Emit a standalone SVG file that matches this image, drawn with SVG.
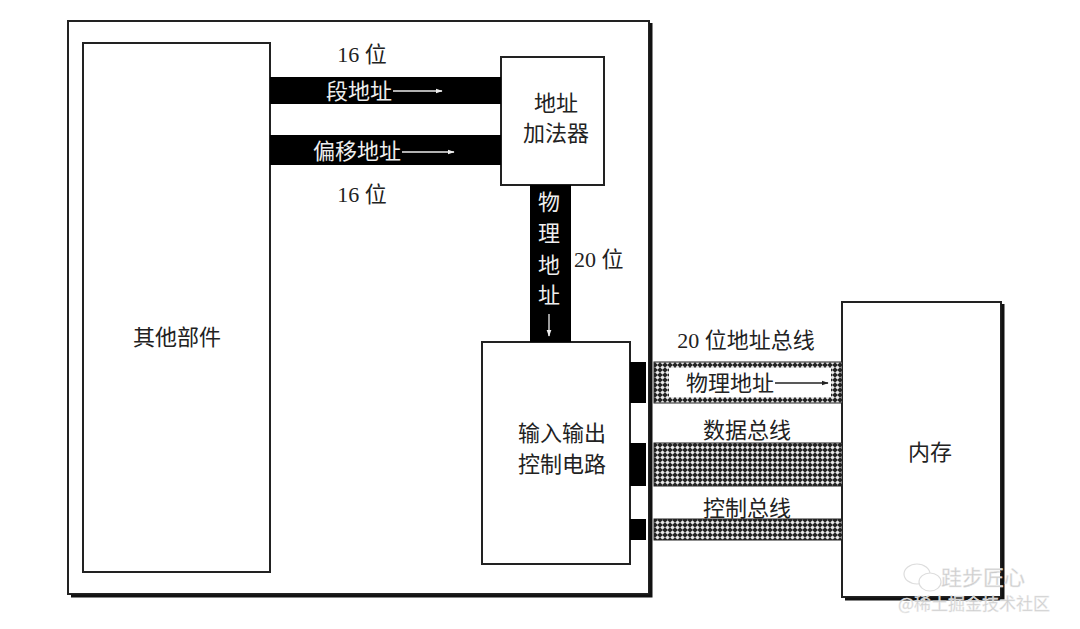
<svg xmlns="http://www.w3.org/2000/svg" width="1080" height="629" viewBox="0 0 1080 629">
<style>
.box{fill:#fff;stroke:#222;stroke-width:2}
.shadow{fill:none;stroke:#111;stroke-width:3}
.t{font-family:"Liberation Serif","Noto Sans CJK SC",serif;font-size:22px;fill:#222}
.w{font-family:"Liberation Serif","Noto Sans CJK SC",serif;font-size:22px;fill:#eee}
.bar{fill:#000}
.arr{stroke:#eee;stroke-width:1.3;fill:none}
.arrk{stroke:#222;stroke-width:1.3;fill:none}
.wm{font-family:"Noto Sans CJK SC",sans-serif;fill:#ccc;stroke:#eee;stroke-width:0.4}
</style>
<defs>
<pattern id="hatch" width="5" height="5" patternUnits="userSpaceOnUse">
<rect width="5" height="5" fill="#222"/>
<path d="M2.5 0.2 L4.8 2.5 L2.5 4.8 L0.2 2.5 Z" fill="#e8e8e8"/>
</pattern>
<marker id="hw" viewBox="0 0 10 10" refX="9" refY="5" markerWidth="7" markerHeight="7" orient="auto" markerUnits="userSpaceOnUse"><path d="M0 1.5 L10 5 L0 8.5 Z" fill="#eee"/></marker>
<marker id="hk" viewBox="0 0 10 10" refX="9" refY="5" markerWidth="7" markerHeight="7" orient="auto" markerUnits="userSpaceOnUse"><path d="M0 1.5 L10 5 L0 8.5 Z" fill="#222"/></marker>
</defs>
<rect width="1080" height="629" fill="#fff"/>

<g id="cpu">
<rect class="box" x="68" y="21" width="581" height="573"/>
<polyline class="shadow" points="651,23 651,596 71,596"/>
</g>

<g id="other">
<rect class="box" x="83" y="43" width="187" height="529"/>
<text class="t" x="177" y="345" text-anchor="middle">其他部件</text>
</g>

<g id="adder">
<rect class="box" x="501" y="57" width="103" height="128"/>
<text class="t" x="556" y="111" text-anchor="middle">地址</text>
<text class="t" x="556" y="141" text-anchor="middle">加法器</text>
</g>

<g id="io">
<rect class="box" x="482" y="342" width="148" height="222"/>
<text class="t" x="562" y="441" text-anchor="middle">输入输出</text>
<text class="t" x="562" y="472" text-anchor="middle">控制电路</text>
</g>

<g id="memory">
<rect class="box" x="842" y="302" width="159" height="295"/>
<polyline class="shadow" points="1003,304 1003,599 845,599"/>
<text class="t" x="930" y="460" text-anchor="middle">内存</text>
</g>

<g id="connectors">
<rect class="bar" x="270" y="77" width="231" height="27"/>
<text class="w" x="326" y="99">段地址</text>
<line class="arr" x1="393" y1="91" x2="442" y2="91" marker-end="url(#hw)"/>
<text class="t" x="362" y="62" text-anchor="middle">16 位</text>

<rect class="bar" x="270" y="135" width="231" height="30"/>
<text class="w" x="313" y="159">偏移地址</text>
<line class="arr" x1="402" y1="152" x2="454" y2="152" marker-end="url(#hw)"/>
<text class="t" x="362" y="202" text-anchor="middle">16 位</text>

<rect class="bar" x="530" y="185" width="41" height="157"/>
<text class="w" x="549" y="210" text-anchor="middle">物</text>
<text class="w" x="549" y="241" text-anchor="middle">理</text>
<text class="w" x="549" y="273" text-anchor="middle">地</text>
<text class="w" x="549" y="303" text-anchor="middle">址</text>
<line class="arr" x1="549" y1="314" x2="549" y2="336" marker-end="url(#hw)"/>
<text class="t" x="574" y="267">20 位</text>

<rect class="bar" x="630" y="362" width="16" height="41"/>
<rect class="bar" x="630" y="443" width="16" height="43"/>
<rect class="bar" x="630" y="519" width="16" height="21"/>

<text class="t" x="746" y="348" text-anchor="middle">20 位地址总线</text>
<rect x="654" y="362" width="188" height="41" fill="url(#hatch)" stroke="#222" stroke-width="1"/>
<rect x="669" y="368" width="162" height="29" fill="#fff"/>
<text class="t" x="686" y="391">物理地址</text>
<line class="arrk" x1="775" y1="383" x2="828" y2="383" marker-end="url(#hk)"/>

<text class="t" x="747" y="438" text-anchor="middle">数据总线</text>
<rect x="654" y="443" width="188" height="43" fill="url(#hatch)" stroke="#222" stroke-width="1"/>

<text class="t" x="747" y="516" text-anchor="middle">控制总线</text>
<rect x="654" y="519" width="188" height="21" fill="url(#hatch)" stroke="#222" stroke-width="1"/>
</g>

<g id="watermark">
<ellipse cx="917" cy="574" rx="13" ry="10" fill="none" stroke="#ddd" stroke-width="1.2"/>
<ellipse cx="930" cy="582" rx="11" ry="9" fill="#fff" stroke="#ddd" stroke-width="1.2"/>
<text class="wm" x="941" y="585" style="font-size:21px">跬步匠心</text>
<text class="wm" x="898" y="610" style="font-size:17px">@稀土掘金技术社区</text>
</g>
</svg>
